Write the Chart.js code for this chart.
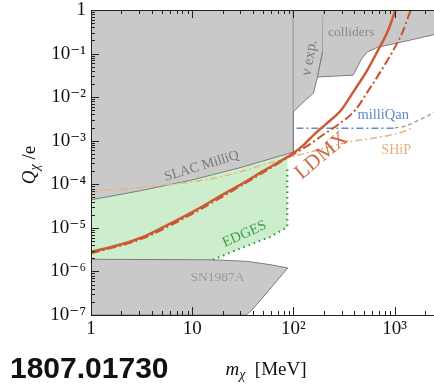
<!DOCTYPE html>
<html>
<head>
<meta charset="utf-8">
<script src="https://cdn.jsdelivr.net/npm/chart.js@4"></script>
<style>
  html, body { margin: 0; padding: 0; background: #fff; }
  #wrap { position: relative; width: 434px; height: 385px; overflow: hidden; }
  #tag {
    position: absolute; left: 10px; top: 351px; line-height: 30px;
    font: bold 30px "Liberation Sans", Arial, sans-serif; color: #111;
  }
</style>
</head>
<body>
<div id="wrap">
  <canvas id="chart" width="434" height="385"></canvas>
  <div id="tag">1807.01730</div>
</div>
<script>
/* =========================
   DATA  (m in MeV, Q in units of e)
========================= */
const slacM = [1, 3.16, 10, 31.6, 100];
const slacQ = [4.4e-5, 7.2e-5, 1.26e-4, 2.5e-4, 5.5e-4];

const nuM = [100, 198, 194, 173, 158, 132, 105, 100];
const nuQ = [1, 1, 0.109, 0.029, 0.0124, 0.0086, 0.0051, 0.0046];

const colM = [198, 2600, 2600, 1940, 1440, 1070, 680, 541, 470, 420, 390, 173, 194];
const colQ = [1, 1, 0.28, 0.24, 0.205, 0.175, 0.14, 0.11, 0.075, 0.045, 0.032, 0.029, 0.109];

const snM = [1, 16, 35, 60, 88, 39, 34, 1];
const snQ = [1.9e-6, 1.85e-6, 1.7e-6, 1.42e-6, 1.2e-6, 1.3e-7, 1e-7, 1e-7];

const edgesM = [16, 17.7, 32, 59, 87, 87];
const edgesQ = [1.85e-6, 2.03e-6, 3.6e-6, 6.2e-6, 1.05e-5, 2.6e-4];

const shipM = [1, 16.9, 74, 150, 367, 700, 1100, 1450];
const shipQ = [6.6e-5, 1.4e-4, 3.6e-4, 5.6e-4, 9.5e-4, 1.2e-3, 1.5e-3, 1.9e-3];

const mqM = [107, 1000];
const mqQ = [1.92e-3, 1.92e-3];
const mqExtM = [1000, 1300, 1700, 2500];
const mqExtQ = [1.95e-3, 2.2e-3, 2.9e-3, 4.5e-3];

const ldmxM = [1, 2, 3.16, 5, 10, 20, 31.6, 50, 100, 126, 158, 214, 295, 398, 525, 676, 851, 1023, 1075];
const ldmxQ = [2.8e-6, 4.2e-6, 6e-6, 1e-5, 2.3e-5, 5.8e-5, 1.05e-4, 2e-4, 5.2e-4, 7.9e-4, 1.35e-3, 2.5e-3, 5e-3, 1.41e-2, 3.8e-2, 0.112, 0.316, 1, 1.3];

const ldmx2M = [1, 3.16, 10, 31.6, 105, 141, 195, 288, 407, 550, 724, 955, 1202, 1445, 1514];
const ldmx2Q = [2.6e-6, 5.6e-6, 2.1e-5, 9.8e-5, 5.25e-4, 7.9e-4, 1.35e-3, 2.5e-3, 5e-3, 1.41e-2, 3.8e-2, 0.112, 0.316, 1, 1.26];

const xMajor = [1, 10, 100, 1000];
const xMajorText = ["1", "10", "10²", "10³"];
const yMajor = [1e-7, 1e-6, 1e-5, 1e-4, 1e-3, 1e-2, 1e-1, 1];
const yMajorText = ["10⁻⁷", "10⁻⁶", "10⁻⁵", "10⁻⁴", "10⁻³", "10⁻²", "10⁻¹", "1"];

const notes = [
  { text: "SLAC MilliQ", m: 12.4, q: 2.6e-4, rot: -17, color: "#7a7a7a", size: 14 },
  { text: "colliders", m: 373, q: 0.31, rot: 0, color: "#8a8a8a", size: 13.5 },
  { text: "ν exp.", m: 144, q: 0.08, rot: -80, color: "#7a7a7a", size: 15 },
  { text: "SN1987A", m: 17.8, q: 7.4e-7, rot: 0, color: "#9b9b9b", size: 13.5 },
  { text: "milliQan", m: 771, q: 3.9e-3, rot: 0, color: "#5a8ad0", size: 14.5 },
  { text: "SHiP", m: 1035, q: 6.1e-4, rot: 0, color: "#e2b07a", size: 14 },
  { text: "LDMX", m: 190, q: 4.5e-4, rot: -40, color: "#cd6a45", size: 21 },
  { text: "EDGES", m: 32.9, q: 7.2e-6, rot: -24, color: "#3c9c46", size: 14.5 }
];

/* =========================
   HELPERS
========================= */
const SERIF = "'Liberation Serif', 'DejaVu Serif', serif";

function pts(xs, ys) {
  return xs.map((x, i) => ({ x, y: ys[i] }));
}

function minorTicks(lo, hi) {
  const out = [];
  for (let e = Math.floor(Math.log10(lo)); e <= Math.ceil(Math.log10(hi)); e++) {
    for (let k = 1; k <= 9; k++) {
      const v = k * Math.pow(10, e);
      if (v >= lo * 0.999 && v <= hi * 1.001) out.push(v);
    }
  }
  return out;
}

function majorIndex(v, list) {
  return list.findIndex(m => Math.abs(Math.log10(v) - Math.log10(m)) < 1e-6);
}

function region(label, xs, ys, bg, order) {
  return {
    label, data: pts(xs, ys), fill: "shape", backgroundColor: bg,
    borderColor: "#7c7c7c", borderWidth: 1, pointRadius: 0, tension: 0, order
  };
}

function curve(label, xs, ys, color, width, dash, order, smooth) {
  const d = {
    label, data: pts(xs, ys), fill: false, borderColor: color, borderWidth: width,
    borderDash: dash, pointRadius: 0, tension: 0, order
  };
  if (smooth) d.cubicInterpolationMode = "monotone";
  return d;
}

/* =========================
   PLUGINS
========================= */
const frame = {
  id: "frame",
  afterDraw(chart) {
    const { ctx, chartArea: a, scales: { x, y } } = chart;
    ctx.save();
    ctx.strokeStyle = "#222";
    ctx.lineWidth = 1;
    ctx.beginPath();
    ctx.moveTo(a.left + 0.5, a.top + 0.5);
    ctx.lineTo(a.right, a.top + 0.5);
    ctx.moveTo(a.left + 0.5, a.top);
    ctx.lineTo(a.left + 0.5, a.bottom + 0.5);
    ctx.lineTo(a.right, a.bottom + 0.5);
    x.ticks.forEach(t => {
      const px = Math.round(x.getPixelForValue(t.value)) + 0.5;
      const len = majorIndex(t.value, xMajor) >= 0 ? 8 : 4;
      ctx.moveTo(px, a.bottom); ctx.lineTo(px, a.bottom - len);
      ctx.moveTo(px, a.top); ctx.lineTo(px, a.top + len);
    });
    y.ticks.forEach(t => {
      const py = Math.round(y.getPixelForValue(t.value)) + 0.5;
      const len = majorIndex(t.value, yMajor) >= 0 ? 8 : 4;
      ctx.moveTo(a.left, py); ctx.lineTo(a.left + len, py);
    });
    ctx.stroke();
    ctx.restore();
  }
};

const labels = {
  id: "labels",
  afterDatasetsDraw(chart) {
    const { ctx, scales: { x, y } } = chart;
    notes.forEach(n => {
      ctx.save();
      ctx.translate(x.getPixelForValue(n.m), y.getPixelForValue(n.q));
      ctx.rotate(n.rot * Math.PI / 180);
      ctx.font = `${n.size}px ${SERIF}`;
      ctx.fillStyle = n.color;
      ctx.textAlign = "center";
      ctx.textBaseline = "middle";
      ctx.fillText(n.text, 0, 0);
      ctx.restore();
    });
  }
};

// axis titles with italic symbol and subscript
function drawParts(ctx, parts, cx, cy) {
  let w = 0;
  parts.forEach(p => { ctx.font = p.font; p.w = ctx.measureText(p.t).width; w += p.w; });
  let xx = cx - w / 2;
  parts.forEach(p => {
    ctx.font = p.font;
    ctx.fillText(p.t, xx, cy + (p.dy || 0));
    xx += p.w;
  });
}

const titles = {
  id: "titles",
  afterDraw(chart) {
    const ctx = chart.ctx;
    ctx.save();
    ctx.fillStyle = "#111";
    ctx.textBaseline = "alphabetic";
    ctx.textAlign = "left";
    drawParts(ctx, [
      { t: "m", font: `italic 19px ${SERIF}` },
      { t: "χ", font: `italic 14px ${SERIF}`, dy: 4 },
      { t: "  [MeV]", font: `19px ${SERIF}` }
    ], 266, 375);
    ctx.translate(35, 165);
    ctx.rotate(-Math.PI / 2);
    drawParts(ctx, [
      { t: "Q", font: `italic 19px ${SERIF}` },
      { t: "χ", font: `italic 14px ${SERIF}`, dy: 4 },
      { t: " /e", font: `19px ${SERIF}` }
    ], 0, 0);
    ctx.restore();
  }
};

/* =========================
   CHART
========================= */
const bigM = [1].concat(slacM.slice(-1), slacM.slice().reverse());
const bigQ = [1, 1].concat(slacQ.slice().reverse());

const greenM = slacM.slice(0, 4).concat([87], edgesM.slice(1).reverse().slice(1), [16, 1]);
const greenQ = slacQ.slice(0, 4).concat([5.1e-4], edgesQ.slice(1).reverse().slice(1), [1.85e-6, 1.9e-6]);

new Chart(document.getElementById("chart"), {
  type: "line",
  data: {
    datasets: [
      { label: "EDGES fill", data: pts(greenM, greenQ), fill: "shape", backgroundColor: "#cdeecd",
        borderWidth: 0, borderColor: "rgba(0,0,0,0)", pointRadius: 0, tension: 0, order: 20 },
      region("SLAC", bigM, bigQ, "#c9c9c9", 19),
      region("nu exp", nuM, nuQ, "#c9c9c9", 18),
      region("colliders", colM, colQ, "#c9c9c9", 17),
      region("SN1987A", snM, snQ, "#c9c9c9", 16),
      curve("EDGES", edgesM, edgesQ, "#2f9a3a", 2.2, [1.5, 4], 6, false),
      curve("SHiP", shipM, shipQ, "#e9b47a", 1.5, [7, 3, 2, 3], 5, true),
      curve("milliQan", mqM, mqQ, "#5b8ed8", 1.5, [7, 3, 2, 3], 4, false),
      curve("milliQan ext", mqExtM, mqExtQ, "#9a9a9a", 1.3, [4, 3], 4, true),
      curve("LDMX II", ldmx2M, ldmx2Q, "#c9502f", 2, [9, 3, 2, 3], 2, true),
      curve("LDMX", ldmxM, ldmxQ, "#cc5a35", 2.5, [], 1, true)
    ]
  },
  options: {
    responsive: false,
    animation: false,
    devicePixelRatio: 1,
    layout: { padding: { top: 10, right: 0, left: 0, bottom: 0 } },
    plugins: { legend: { display: false }, tooltip: { enabled: false } },
    scales: {
      x: {
        type: "logarithmic", min: 1, max: 2450,
        grid: { display: false, drawTicks: false },
        border: { display: false },
        afterBuildTicks: s => { s.ticks = minorTicks(1, 2450).map(v => ({ value: v })); },
        ticks: {
          autoSkip: false, maxRotation: 0, padding: 3, color: "#111",
          font: { family: SERIF, size: 19 },
          callback: v => { const i = majorIndex(v, xMajor); return i >= 0 ? xMajorText[i] : ""; }
        },
        afterFit: s => { s.height = 70; s.paddingLeft = 0; s.paddingRight = 0; }
      },
      y: {
        type: "logarithmic", min: 1e-7, max: 1,
        grid: { display: false, drawTicks: false },
        border: { display: false },
        afterBuildTicks: s => { s.ticks = minorTicks(1e-7, 1).map(v => ({ value: v })); },
        ticks: {
          autoSkip: false, padding: 5, color: "#111",
          font: { family: SERIF, size: 19 },
          callback: v => { const i = majorIndex(v, yMajor); return i >= 0 ? yMajorText[i] : ""; }
        },
        afterFit: s => { s.width = 91; s.paddingTop = 0; s.paddingBottom = 0; }
      }
    }
  },
  plugins: [labels, frame, titles]
});
</script>
</body>
</html>
